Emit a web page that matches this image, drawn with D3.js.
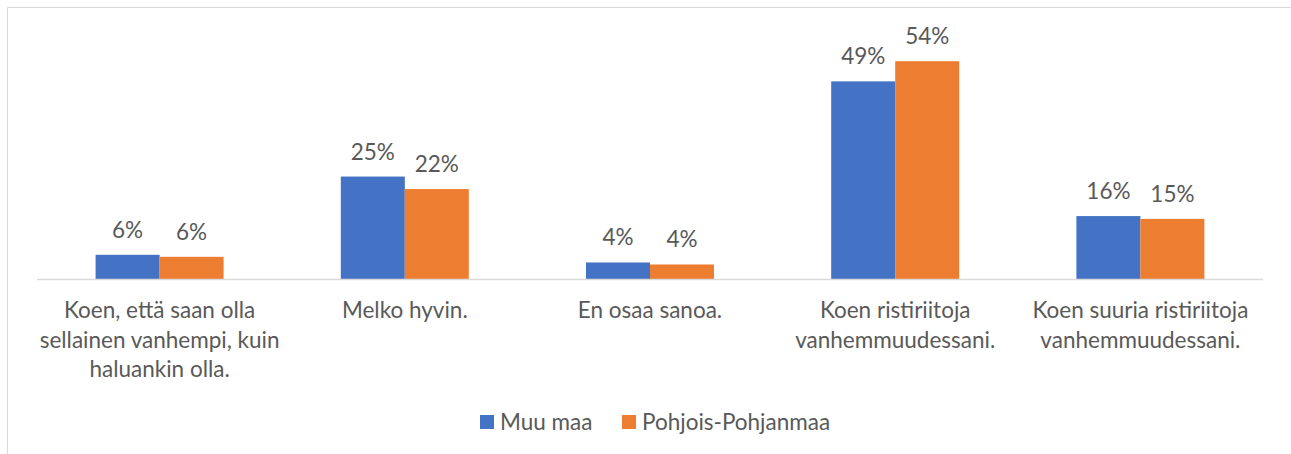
<!DOCTYPE html>
<html>

<head>
  <meta charset="utf-8" />
  <title>Vanhemmuus</title>
  <style>
    body {
      margin: 0;
      background: white;
    }

    text {
      font-family: Lato, "Noto Sans", sans-serif;
      fill: #595959;
    }
  </style>
</head>

<body>
  <svg></svg>

  <script src="https://cdn.jsdelivr.net/npm/d3@7"></script>
  <script>
    var width = 1291,
      height = 454;

    // categories (line breaks as in the original)
    var categories = [
      "Koen, että saan olla\nsellainen vanhempi, kuin\nhaluankin olla.",
      "Melko hyvin.",
      "En osaa sanoa.",
      "Koen ristiriitoja\nvanhemmuudessani.",
      "Koen suuria ristiriitoja\nvanhemmuudessani."
    ];
    var seriesNames = ["Muu maa", "Pohjois-Pohjanmaa"];
    var muuMaa = [6.0, 25.4, 4.1, 49.0, 15.6];
    var pohjoisPohjanmaa = [5.5, 22.3, 3.6, 54.0, 14.9];
    var colors = ["#4472C4", "#ED7D31"];
    var fontSize = "22.5px";

    var svg = d3.select("svg")
      .attr("width", width)
      .attr("height", height);

    // chart area border (only top / left visible)
    svg.append("rect")
      .attr("x", 7.5)
      .attr("y", 7.5)
      .attr("width", width + 20)
      .attr("height", height + 20)
      .attr("fill", "none")
      .attr("stroke", "#d9d9d9");

    var x = d3.scaleBand()
      .domain(d3.range(categories.length))
      .range([37, 1263]);

    var inner = d3.scaleBand()
      .domain([0, 1])
      .range([x.bandwidth() / 2 - 64, x.bandwidth() / 2 + 64]);

    var y = d3.scaleLinear()
      .domain([0, 60])
      .range([279, 37]);

    var rows = [];
    categories.forEach(function (c, i) {
      rows.push({ cat: i, s: 0, v: muuMaa[i] });
      rows.push({ cat: i, s: 1, v: pohjoisPohjanmaa[i] });
    });

    var groups = svg.append("g")
      .selectAll("rect")
      .data(rows)
      .enter();

    groups.append("rect")
      .attr("x", d => x(d.cat) + inner(d.s))
      .attr("y", d => y(d.v))
      .attr("width", inner.bandwidth())
      .attr("height", d => y(0) - y(d.v))
      .attr("fill", d => colors[d.s]);

    groups.append("text")
      .attr("x", d => x(d.cat) + inner(d.s) + inner.bandwidth() / 2)
      .attr("y", d => y(d.v) - 17)
      .attr("text-anchor", "middle")
      .style("font-size", fontSize)
      .text(d => Math.round(d.v) + "%");

    // baseline
    svg.append("line")
      .attr("x1", 37)
      .attr("x2", 1263)
      .attr("y1", y(0) + 0.5)
      .attr("y2", y(0) + 0.5)
      .attr("stroke", "#d9d9d9")
      .attr("stroke-width", 1.5);

    // category labels
    var labels = svg.append("g")
      .selectAll("text")
      .data(categories)
      .enter()
      .append("text")
      .attr("text-anchor", "middle")
      .style("font-size", fontSize)
      .attr("transform", (d, i) => "translate(" + (x(i) + x.bandwidth() / 2) + ",318)");

    labels.selectAll("tspan")
      .data(d => d.split("\n"))
      .enter()
      .append("tspan")
      .attr("x", 0)
      .attr("dy", (d, i) => i === 0 ? 0 : 29.5)
      .text(d => d);

    // legend
    var legendX = [480, 622];
    var legend = svg.append("g")
      .selectAll("g")
      .data(seriesNames)
      .enter()
      .append("g")
      .attr("transform", (d, i) => "translate(" + legendX[i] + ",415)");

    legend.append("rect")
      .attr("width", 14)
      .attr("height", 14)
      .attr("fill", (d, i) => colors[i]);

    legend.append("text")
      .attr("x", 20)
      .attr("y", 15)
      .style("font-size", fontSize)
      .text(d => d);
  </script>
</body>

</html>
